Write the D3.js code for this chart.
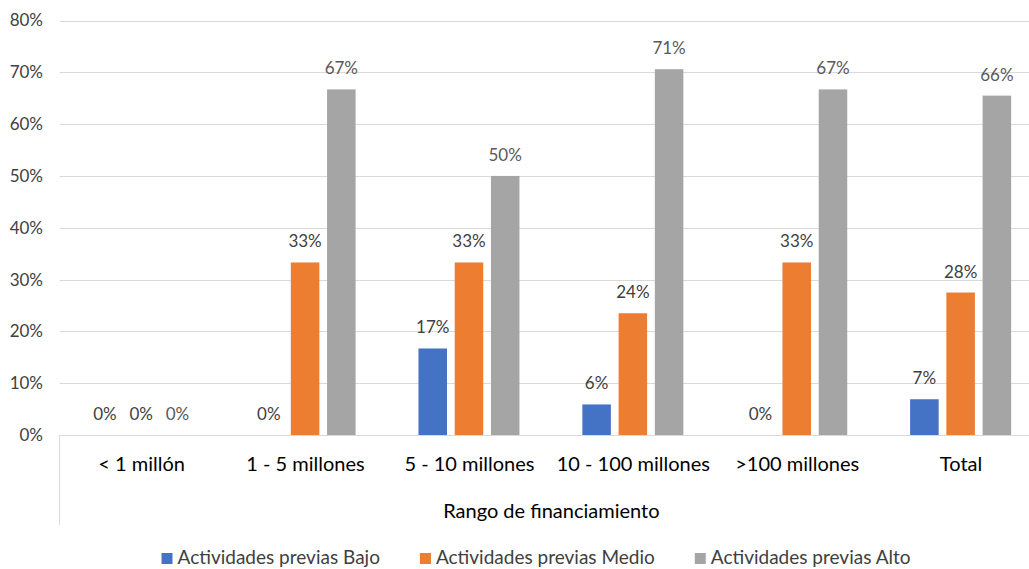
<!DOCTYPE html>
<html lang="es">
<head>
<meta charset="utf-8">
<script src="https://d3js.org/d3.v7.min.js"></script>
<style>
  body {margin:0; background:#fff;}
  svg {display:block; font-family:Lato, "Open Sans", sans-serif;}
</style>
</head>
<body>
<script>
// datos
const categories = ["< 1 millón", "1 - 5 millones", "5 - 10 millones", "10 - 100 millones", ">100 millones", "Total"];
const seriesNames = ["Actividades previas Bajo", "Actividades previas Medio", "Actividades previas Alto"];
const bajo  = [0, 0, 16.7, 5.9, 0, 6.9];
const medio = [0, 33.3, 33.3, 23.5, 33.3, 27.5];
const alto  = [0, 66.7, 50, 70.6, 66.7, 65.5];
const yTicks = [0, 10, 20, 30, 40, 50, 60, 70, 80];
const colors = ["#4472C4", "#ED7D31", "#A5A5A5"];
const labelColors = ["#404040", "#404040", "#595959"];

const W = 1029, H = 569;
const svg = d3.select("body").append("svg").attr("width", W).attr("height", H);

const x0 = d3.scaleBand().domain(categories).range([59.7, 1043]).padding(0);
const x1 = d3.scaleBand().domain(seriesNames).range([31, 132]).paddingInner(0.213);
const y = d3.scaleLinear().domain([0, 80]).range([435, 20.5]);

// rejilla
svg.append("g").selectAll("line").data(yTicks).join("line")
  .attr("x1", 59.7).attr("x2", W)
  .attr("y1", d => Math.round(y(d)) + 0.5).attr("y2", d => Math.round(y(d)) + 0.5)
  .attr("stroke", "#d9d9d9").attr("stroke-width", 1);

// eje y
const yAxis = d3.axisLeft(y).tickValues(yTicks).tickSize(0).tickPadding(0).tickFormat(d => d + "%");
svg.append("g").attr("transform", "translate(43,0)").call(yAxis)
  .call(g => g.select(".domain").remove())
  .selectAll("text").attr("font-size", 17).attr("fill", "#404040")
  .attr("font-family", "Lato, sans-serif");

// linea vertical del eje de categorias
svg.append("line").attr("x1", 59.5).attr("x2", 59.5).attr("y1", 435).attr("y2", 525)
  .attr("stroke", "#d9d9d9");

// barras
const data = [bajo, medio, alto];
const groups = svg.append("g").selectAll("g").data(categories).join("g")
  .attr("transform", d => `translate(${x0(d)},0)`);

groups.selectAll("rect")
  .data((c, i) => seriesNames.map((s, k) => ({s, k, v: data[k][i]})))
  .join("rect")
  .attr("x", d => x1(d.s))
  .attr("width", x1.bandwidth())
  .attr("y", d => y(d.v))
  .attr("height", d => y(0) - y(d.v))
  .attr("fill", d => colors[d.k]);

groups.selectAll("text.lbl")
  .data((c, i) => seriesNames.map((s, k) => ({s, k, v: data[k][i]})))
  .join("text").attr("class", "lbl")
  .attr("x", d => x1(d.s) + x1.bandwidth() / 2)
  .attr("y", d => y(d.v) - 15)
  .attr("text-anchor", "middle")
  .attr("font-size", 17)
  .attr("fill", d => labelColors[d.k])
  .text(d => Math.round(d.v) + "%");

// etiquetas de categoria
const xAxis = d3.axisBottom(x0).tickSize(0).tickPadding(0);
svg.append("g").attr("transform", "translate(0,457)").call(xAxis)
  .call(g => g.select(".domain").remove())
  .selectAll("text").attr("font-size", 20).attr("fill", "#000")
  .attr("font-family", "Lato, sans-serif");

// titulo del eje
svg.append("text").attr("x", (59.7 + 1043) / 2).attr("y", 518)
  .attr("text-anchor", "middle").attr("font-size", 20).attr("fill", "#000")
  .text("Rango de financiamiento");

// leyenda
const legend = svg.append("g");
const items = legend.selectAll("g").data(seriesNames).join("g");
items.append("rect").attr("width", 11).attr("height", 11).attr("y", -11)
  .attr("fill", (d, i) => colors[i]);
items.append("text").attr("x", 16).attr("font-size", 19).attr("fill", "#404040")
  .attr("y", 0).text(d => d);
let cx = 0;
const pos = [];
items.each(function () {
  const w = this.getBBox().width;
  pos.push(cx);
  cx += w + 40;
});
const total = cx - 40;
const startX = 536 - total / 2;
items.attr("transform", (d, i) => `translate(${startX + pos[i]},564)`);
</script>
</body>
</html>
